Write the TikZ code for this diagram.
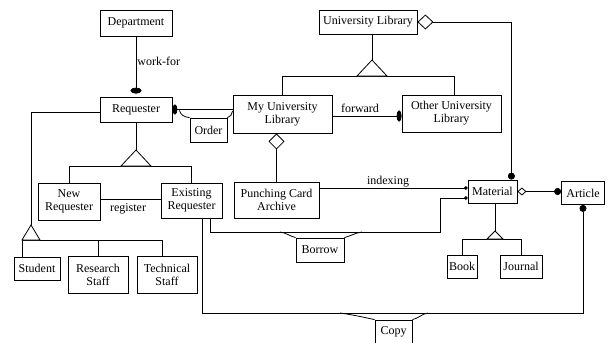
\documentclass[tikz,border=0pt]{standalone}
\usepackage{fontspec}
\setmainfont{Liberation Serif}
\usetikzlibrary{arrows.meta,calc}
\begin{document}
\begin{tikzpicture}[x=1pt,y=-1pt,line width=0.8pt,
  box/.style={draw,rectangle,align=center,inner sep=1pt,font=\fontsize{12}{13}\selectfont},
  lbl/.style={font=\fontsize{12}{13}\selectfont,inner sep=1pt},
  gentri/.style={draw,fill=white,line join=miter}]
\fill[white] (0,0) rectangle (614,343);
\useasboundingbox (0,0) rectangle (614,343);
% boxes
\node[box,minimum width=72pt,minimum height=26pt] (dept) at (136,23) {Department};
\node[box,minimum width=72pt,minimum height=25pt] (req) at (136,109.5) {Requester};
\node[box,minimum width=99pt,minimum height=38pt] (myul) at (282.5,114) {My University\\Library};
\node[box,minimum width=37pt,minimum height=24pt] (order) at (208.5,130) {Order};
\node[box,minimum width=98pt,minimum height=24pt] (ul) at (368,22) {University Library};
\node[box,minimum width=99pt,minimum height=37pt] (oul) at (451.5,113.5) {Other University\\Library};
\node[box,minimum width=62pt,minimum height=37pt] (newreq) at (69,201.5) {New\\Requester};
\node[box,minimum width=61pt,minimum height=35pt] (exreq) at (191.5,200.5) {Existing\\Requester};
\node[box,minimum width=85pt,minimum height=36pt] (pca) at (276.5,200) {Punching Card\\Archive};
\node[box,minimum width=49pt,minimum height=23pt] (material) at (492.5,191.5) {Material};
\node[box,minimum width=43pt,minimum height=23pt] (article) at (583,193) {Article};
\node[box,minimum width=30pt,minimum height=23pt] (book) at (462,266.5) {Book};
\node[box,minimum width=42pt,minimum height=23pt] (journal) at (521,266.5) {Journal};
\node[box,minimum width=46pt,minimum height=23pt] (student) at (37,268.5) {Student};
\node[box,minimum width=60pt,minimum height=37pt] (research) at (98,274.5) {Research\\Staff};
\node[box,minimum width=60pt,minimum height=37pt] (technical) at (167,274.5) {Technical\\Staff};
\node[box,minimum width=48pt,minimum height=24pt] (borrow) at (320,250) {Borrow};
\node[box,minimum width=37pt,minimum height=23pt] (copy) at (393.5,331.5) {Copy};
% labels
\node[lbl,anchor=west] (wf) at (136,61) {work-for};
\node[lbl] (fw) at (360,108) {forward};
\node[lbl] (rg) at (128,209) {register};
\node[lbl] (ix) at (388,182) {indexing};
% work-for
\draw[-{Ellipse[length=6pt,width=11pt]}] (dept.south) -- ([yshift=3pt]req.north);
% requester - my university library (order)
\draw[{Ellipse[length=5pt,width=10pt]}-] (req.east) -- (req.east -| myul.west);
\draw ($(req.east)+(7,1)$) to[out=-75,in=175] (order.north west);
\draw (order.north east) to[out=5,in=-105] (myul.west |- 0,111);
% university library generalization
\coordinate (ulapex) at (372,60);
\coordinate (ulr) at (454,76);
\draw (ulapex |- ul.south) -- (ulapex);
\draw (myul.north) |- (ulr) -- (ulr |- oul.north);
\draw[gentri] (ulapex) -- ++(-15,16) -- ++(30,0) -- cycle;
% forward
\draw[-{Ellipse[length=5pt,width=11pt]}] (myul.east |- 0,116) -- (oul.west |- 0,116);
% university library aggregation to material
\draw[{Diamond[open,length=16pt,width=15pt]}-{Circle[length=7pt]}] (ul.east) -| ($(material.north east)+(-6,0)$);
% my university library aggregation to punching card archive
\draw[{Diamond[open,length=16pt,width=16pt]}-] (myul.south -| pca.north) -- (pca.north);
% indexing
\draw[-{Circle[length=3.5pt]}] (pca.east |- 0,188) -- (material.west |- 0,188);
% borrow
\coordinate (bc) at (440,232);
\draw[-{Circle[length=3.5pt]}] (exreq.south -| 210,0) |- (bc) |- (material.west |- 0,198);
\draw (280,232) to[out=-8,in=165] (borrow.north west);
\draw (borrow.north east) to[out=15,in=188] (362,232);
% copy
\coordinate (cc) at (583,313);
\draw[-{Circle[length=7pt]}] (exreq.south -| 202,0) |- (cc) -- (article.south);
\draw (340,313) to[out=-8,in=168] (copy.north west);
\draw (copy.north east) to[out=12,in=188] (428,313);
% material - article
\draw[{Diamond[open,length=9pt,width=8pt]}-{Circle[length=7pt]}] (material.east) -- (material.east -| article.west);
% material generalization
\coordinate (mapex) at (495,231);
\draw (mapex |- material.south) -- (mapex);
\draw (book.north) |- (journal.north |- 0,239) -- (journal.north);
\draw[gentri] (mapex) -- ++(-8,8) -- ++(16,0) -- cycle;
% requester generalization
\coordinate (rapex) at (req.south |- 0,150);
\draw (req.south) -- (rapex);
\draw (newreq.north) |- (exreq.north |- 0,166) -- (exreq.north);
\draw[gentri] (rapex) -- ++(-15,16) -- ++(30,0) -- cycle;
% register
\draw (newreq.east |- 0,199) -- (exreq.west |- 0,199);
% requester to staff kinds
\coordinate (sapex) at (31,225);
\coordinate (sl) at (22,240);
\coordinate (sr) at (162,240);
\draw (req.west |- 0,112) -| (sapex);
\draw (sl |- student.north) -- (sl) -- (sr) -- (sr |- technical.north);
\draw (research.north |- sl) -- (research.north);
\draw[gentri] (sapex) -- ++(-9,15) -- ++(18,0) -- cycle;
\end{tikzpicture}
\end{document}
